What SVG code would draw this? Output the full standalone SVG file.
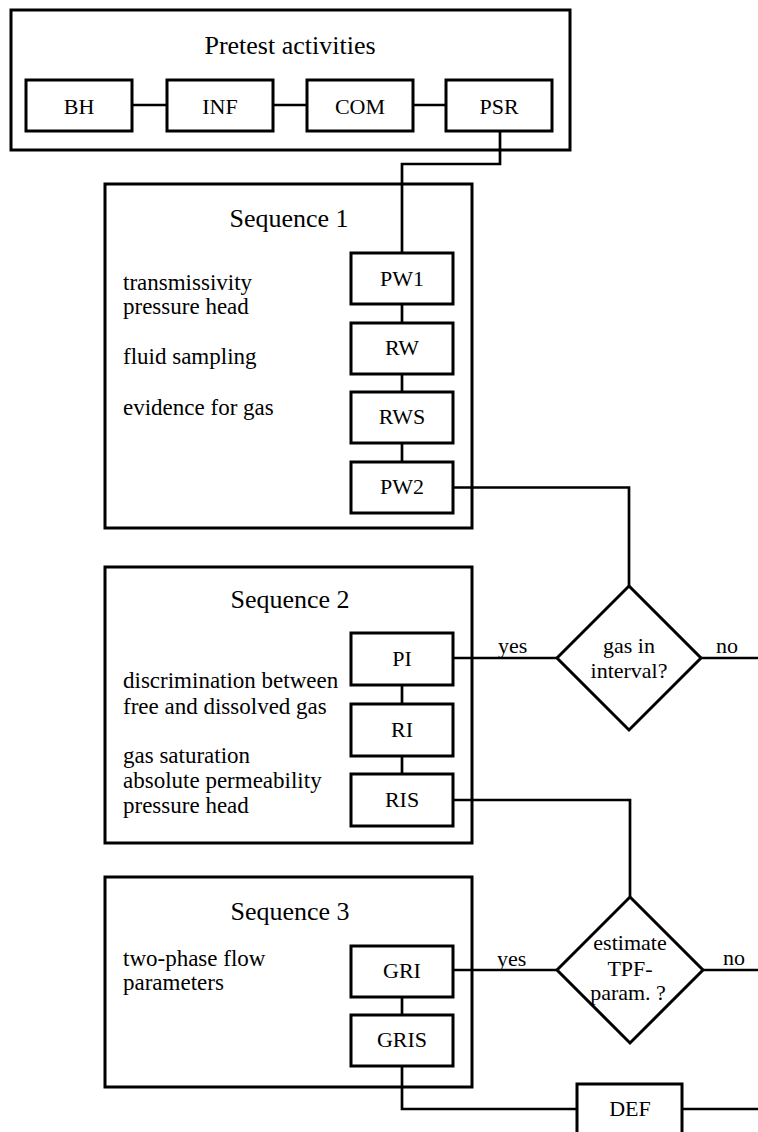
<svg xmlns="http://www.w3.org/2000/svg" width="758" height="1132" viewBox="0 0 758 1132">
<style>
  .frame{fill:none;stroke:#000;stroke-width:3}
  .box{fill:#fff;stroke:#000;stroke-width:3}
  .dia{fill:#fff;stroke:#000;stroke-width:3;stroke-linejoin:miter}
  .con{fill:none;stroke:#000;stroke-width:2.7}
  text{font-family:"Liberation Serif","Times New Roman",serif;fill:#000}
  .title{font-size:26px;text-anchor:middle}
  .lbl{font-size:22px;text-anchor:middle}
  .note{font-size:23px}
  .yn{font-size:22px}
</style>
<rect width="758" height="1132" fill="#fff"/>

<g id="pretest">
  <rect class="frame" x="11" y="10" width="559" height="140"/>
  <text class="title" x="290" y="54">Pretest activities</text>
</g>
<g id="seq1">
  <rect class="frame" x="105" y="184" width="367" height="344"/>
  <text class="title" x="289" y="227">Sequence 1</text>
  <text class="note" x="123" y="290">transmissivity</text>
  <text class="note" x="123" y="314">pressure head</text>
  <text class="note" x="123" y="364">fluid sampling</text>
  <text class="note" x="123" y="415">evidence for gas</text>
</g>
<g id="seq2">
  <rect class="frame" x="105" y="567" width="367" height="276"/>
  <text class="title" x="290" y="608">Sequence 2</text>
  <text class="note" x="123" y="688">discrimination between</text>
  <text class="note" x="123" y="714">free and dissolved gas</text>
  <text class="note" x="123" y="763">gas saturation</text>
  <text class="note" x="123" y="788">absolute permeability</text>
  <text class="note" x="123" y="813">pressure head</text>
</g>
<g id="seq3">
  <rect class="frame" x="105" y="877" width="367" height="210"/>
  <text class="title" x="290" y="920">Sequence 3</text>
  <text class="note" x="123" y="966">two-phase flow</text>
  <text class="note" x="123" y="990">parameters</text>
</g>

<g id="connectors">
  <path class="con" d="M132,105 H167 M273,105 H307 M413,105 H446"/>
  <path class="con" d="M500,131 V164 H402 V253"/>
  <path class="con" d="M402,304 V323 M402,374 V392 M402,443 V462"/>
  <path class="con" d="M453,487.5 H629 V586"/>
  <path class="con" d="M453,658 H557"/>
  <path class="con" d="M701,658 H758"/>
  <path class="con" d="M402,685 V704 M402,756 V774"/>
  <path class="con" d="M453,800 H630 V897"/>
  <path class="con" d="M453,970 H557"/>
  <path class="con" d="M703,970 H758"/>
  <path class="con" d="M402,997 V1015"/>
  <path class="con" d="M402,1066 V1109 H577"/>
  <path class="con" d="M682,1109 H758"/>
  <text class="yn" x="498" y="653">yes</text>
  <text class="yn" x="716" y="653">no</text>
  <text class="yn" x="497" y="966">yes</text>
  <text class="yn" x="723" y="965">no</text>
</g>

<g id="BH"><rect class="box" x="26" y="80" width="106" height="51"/><text class="lbl" x="79" y="114">BH</text></g>
<g id="INF"><rect class="box" x="167" y="80" width="106" height="51"/><text class="lbl" x="220" y="114">INF</text></g>
<g id="COM"><rect class="box" x="307" y="80" width="106" height="51"/><text class="lbl" x="360" y="114">COM</text></g>
<g id="PSR"><rect class="box" x="446" y="80" width="106" height="51"/><text class="lbl" x="499" y="114">PSR</text></g>

<g id="PW1"><rect class="box" x="351" y="253" width="102" height="51"/><text class="lbl" x="402" y="286">PW1</text></g>
<g id="RW"><rect class="box" x="351" y="323" width="102" height="51"/><text class="lbl" x="402" y="355">RW</text></g>
<g id="RWS"><rect class="box" x="351" y="392" width="102" height="51"/><text class="lbl" x="402" y="424">RWS</text></g>
<g id="PW2"><rect class="box" x="351" y="462" width="102" height="51"/><text class="lbl" x="402" y="494">PW2</text></g>

<g id="PI"><rect class="box" x="351" y="633" width="102" height="52"/><text class="lbl" x="402" y="666">PI</text></g>
<g id="RI"><rect class="box" x="351" y="704" width="102" height="52"/><text class="lbl" x="402" y="737">RI</text></g>
<g id="RIS"><rect class="box" x="351" y="774" width="102" height="52"/><text class="lbl" x="402" y="807">RIS</text></g>

<g id="GRI"><rect class="box" x="351" y="946" width="102" height="51"/><text class="lbl" x="402" y="978">GRI</text></g>
<g id="GRIS"><rect class="box" x="351" y="1015" width="102" height="51"/><text class="lbl" x="402" y="1047">GRIS</text></g>

<g id="gas-in-interval">
  <polygon class="dia" points="629,586 701,658 629,730 557,658"/>
  <text class="lbl" x="629" y="653">gas in</text>
  <text class="lbl" x="629" y="678">interval?</text>
</g>
<g id="estimate-tpf">
  <polygon class="dia" points="630,897 703,970 630,1043 557,970"/>
  <text class="lbl" x="630" y="950">estimate</text>
  <text class="lbl" x="630" y="976">TPF-</text>
  <text class="lbl" x="628" y="1000">param. ?</text>
</g>
<g id="DEF">
  <rect class="box" x="577" y="1084" width="105" height="60"/>
  <text class="lbl" x="630" y="1116">DEF</text>
</g>
</svg>
